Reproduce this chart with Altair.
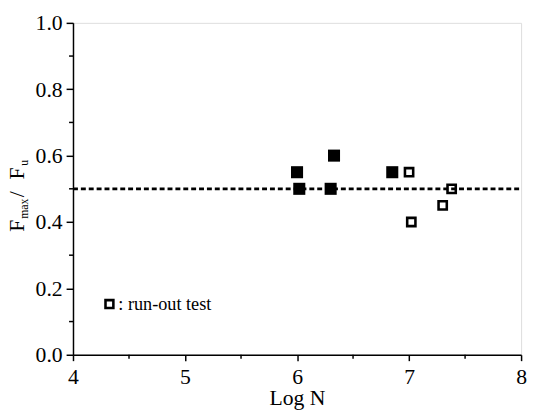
import altair as alt
import pandas as pd

# Data
failed_logN = [6.0, 6.02, 6.33, 6.30, 6.85]
failed_ratio = [0.55, 0.50, 0.60, 0.50, 0.55]
runout_logN = [7.0, 7.02, 7.30, 7.38]
runout_ratio = [0.55, 0.40, 0.45, 0.50]
ref_level = [0.5]
x_major = [4, 5, 6, 7, 8]
x_minor = [4.5, 5.5, 6.5, 7.5]
y_major = [0.0, 0.2, 0.4, 0.6, 0.8, 1.0]
y_minor = [0.1, 0.3, 0.5, 0.7, 0.9]

FONT = "Liberation Serif"
W, H = 455, 337

xs = alt.Scale(domain=[4, 8], nice=False, zero=False)
ys = alt.Scale(domain=[0, 1], nice=False)

filled = pd.DataFrame({"x": failed_logN, "y": failed_ratio})
opened = pd.DataFrame({"x": runout_logN, "y": runout_ratio})

xaxis = alt.Axis(values=x_major, format="d", tickSize=6, labelPadding=6,
                 title="Log N", titlePadding=1)
yaxis = alt.Axis(values=y_major, format=".1f", tickSize=7, labelPadding=4, title=None)

base_pts = alt.Chart(filled).mark_point(shape="square", filled=True, color="black",
                                        size=150, opacity=1).encode(
    x=alt.X("x:Q", scale=xs, axis=xaxis),
    y=alt.Y("y:Q", scale=ys, axis=yaxis),
)

open_pts = alt.Chart(opened).mark_point(shape="square", filled=False, color="black",
                                        size=70, strokeWidth=2.6, opacity=1).encode(
    x=alt.X("x:Q", scale=xs, axis=xaxis),
    y=alt.Y("y:Q", scale=ys, axis=yaxis),
)

ref = alt.Chart(pd.DataFrame({"y": ref_level})).mark_rule(
    color="black", strokeWidth=2.8, strokeDash=[5, 3]).encode(
    y=alt.Y("y:Q", scale=ys, axis=yaxis),
    x=alt.value(0), x2=alt.value(W),
)

xminor = alt.Chart(pd.DataFrame({"x": x_minor})).mark_rule(
    color="black", strokeWidth=1.5).encode(
    x=alt.X("x:Q", scale=xs, axis=xaxis), y=alt.value(H), y2=alt.value(H + 4))

yminor = alt.Chart(pd.DataFrame({"y": y_minor})).mark_rule(
    color="black", strokeWidth=1.5).encode(
    y=alt.Y("y:Q", scale=ys, axis=yaxis), x=alt.value(0), x2=alt.value(-4))

one = pd.DataFrame({"a": [0]})

legend_pt = alt.Chart(one).mark_point(shape="square", filled=False, color="black",
                                      size=64, strokeWidth=2.6, opacity=1).encode(
    x=alt.value(37), y=alt.value(285.5))
legend_txt = alt.Chart(one).mark_text(text=": run-out test", font=FONT, fontSize=18.5,
                                      align="left", baseline="middle", color="black").encode(
    x=alt.value(46), y=alt.value(286))

# y-axis title built from pieces (F_max / F_u)
def piece(txt, size, xpos, ypos):
    return alt.Chart(one).mark_text(text=txt, font=FONT, fontSize=size, angle=270,
                                    align="left", baseline="alphabetic",
                                    color="black").encode(
        x=alt.value(xpos), y=alt.value(ypos))

title_layers = [
    piece("F", 22, -50, 212),
    piece("max", 12, -46, 199),
    piece("/", 22, -50, 177),
    piece("F", 22, -50, 159),
    piece("u", 12, -46, 145),
]

chart = alt.layer(ref, base_pts, open_pts, xminor, yminor, legend_pt, legend_txt,
                  *title_layers).properties(
    width=W, height=H,
    autosize=alt.AutoSizeParams(type="none"),
    padding={"left": 66, "top": 12, "right": 6, "bottom": 53},
).configure_view(stroke=None).configure(background="white").configure_axis(
    labelFont=FONT, labelFontSize=22, labelColor="black", titleFont=FONT,
    titleFontSize=22, titleFontWeight="normal", titleColor="black",
    tickWidth=1.5, tickColor="black", domainColor="black", domainWidth=1.5,
    grid=False, labelFlush=False
).configure_text(font=FONT)

chart.save("out.html", embed_options={"renderer": "svg", "actions": False})
